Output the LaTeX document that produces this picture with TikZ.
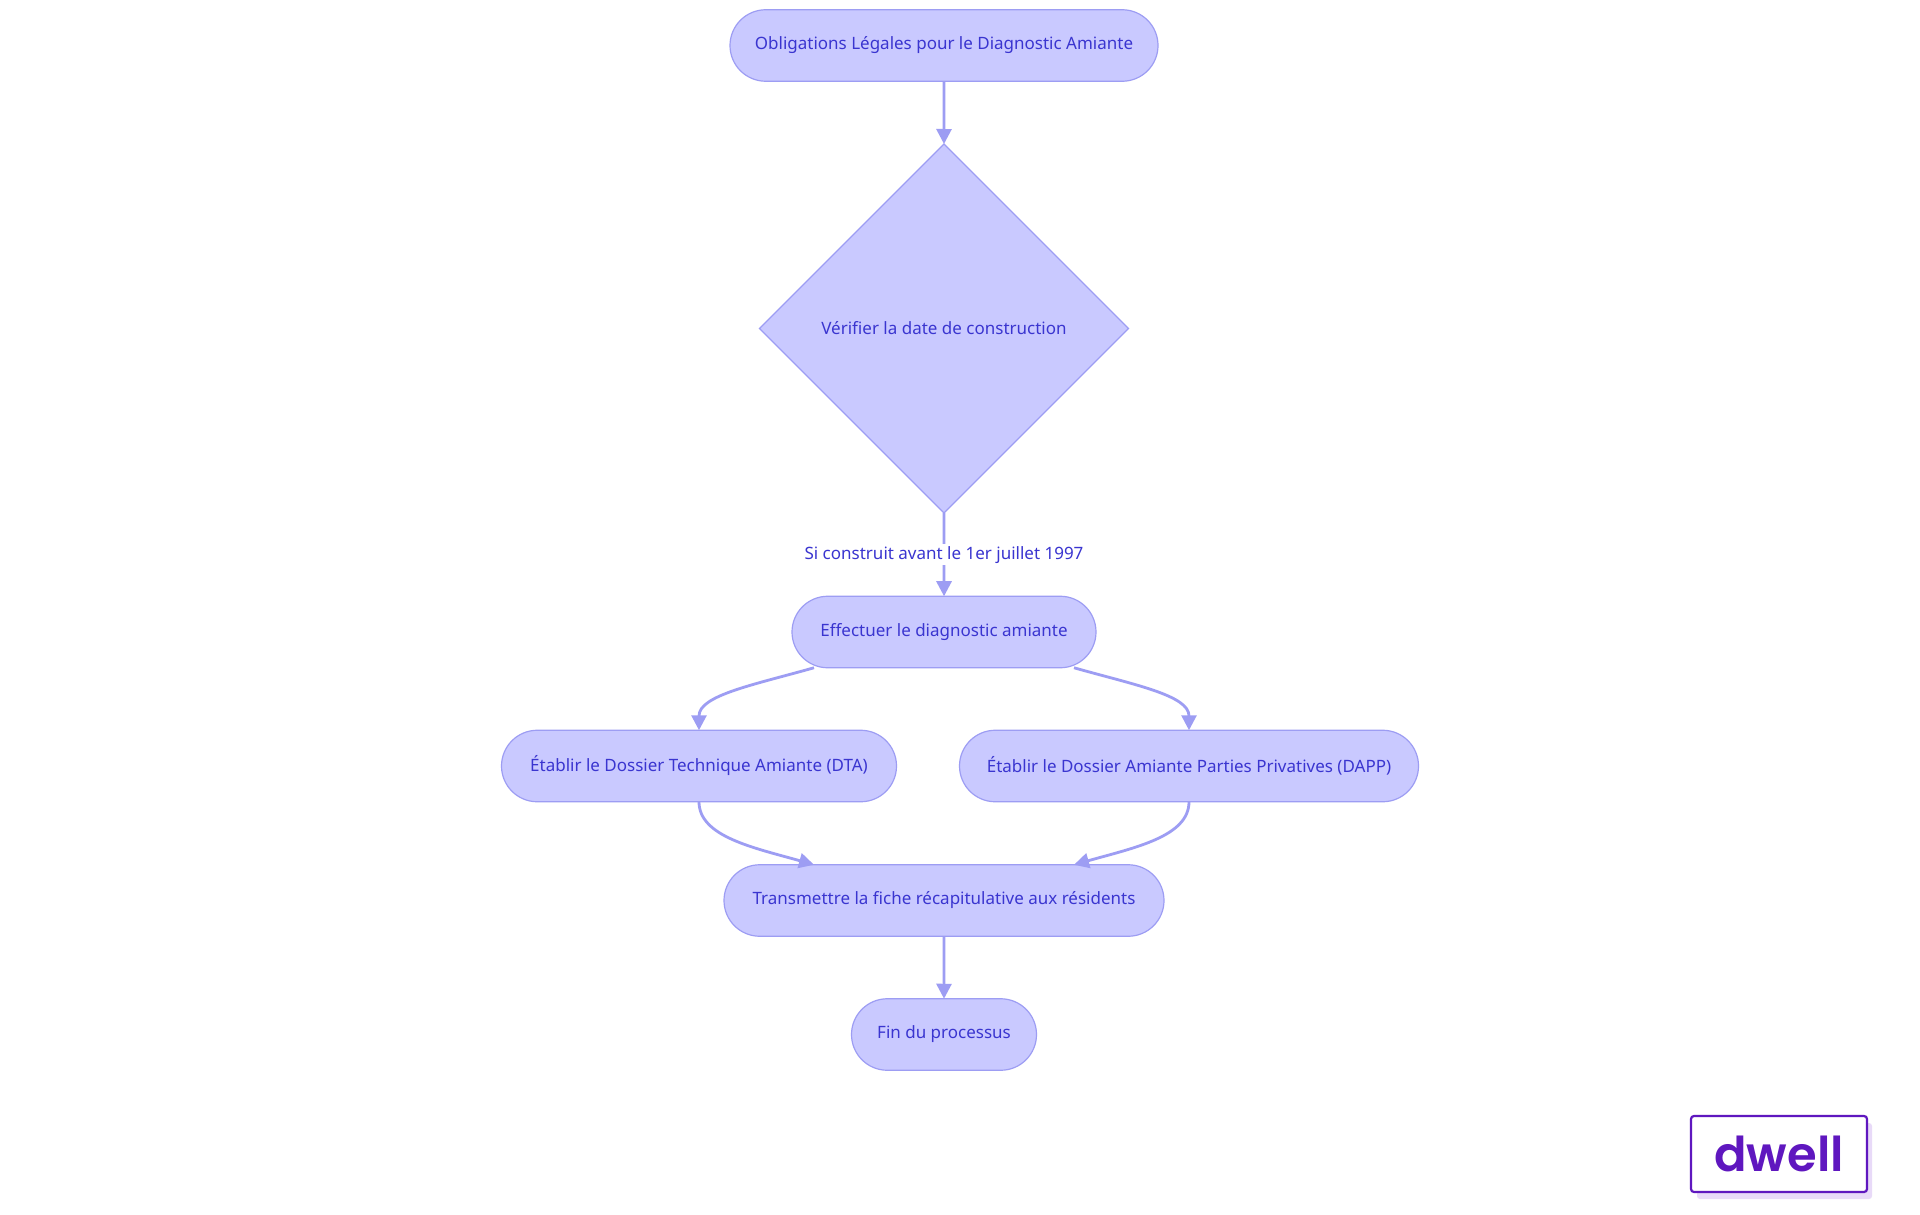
\documentclass[tikz,border=0pt]{standalone}
\usepackage{fontspec}
\setmainfont{Noto Sans}
\newfontfamily\logofont[BoldFont={Poppins SemiBold}]{Poppins}
\usetikzlibrary{shapes.misc,shapes.geometric,arrows.meta,calc}
\definecolor{nodefill}{HTML}{C9C9FF}
\definecolor{edgecol}{HTML}{9D9DF3}
\definecolor{txtcol}{HTML}{3A35D0}
\definecolor{logocol}{HTML}{5F17BF}
\definecolor{logoshadow}{HTML}{E8DAF8}
\tikzset{
  x=1pt,y=-1pt,
  flowbox/.style={rounded rectangle,draw=edgecol,fill=nodefill,line width=1.2pt,inner sep=0pt,outer sep=0pt,minimum height=71.5pt,text=txtcol,font=\fontsize{17}{22}\selectfont},
  decision/.style={diamond,draw=edgecol,fill=nodefill,line width=1.2pt,inner sep=0pt,outer sep=0pt,minimum width=369pt,minimum height=369pt,text=txtcol,font=\fontsize{17}{22}\selectfont},
  link/.style={draw=edgecol,line width=2.8pt,-{Triangle[length=15pt,width=15pt]}},
  linklabel/.style={fill=white,text=txtcol,inner sep=2pt,font=\fontsize{17}{22}\selectfont}
}
\begin{document}
\begin{tikzpicture}
\useasboundingbox (0,0) rectangle (1920,1215);
\fill[white] (0,0) rectangle (1920,1215);
\node[flowbox,minimum width=428pt] (a) at (944,45.5) {Obligations Légales pour le Diagnostic Amiante};
\node[decision] (b) at (944,328.5) {Vérifier la date de construction};
\node[flowbox,minimum width=304pt] (c) at (944,632) {Effectuer le diagnostic amiante};
\node[flowbox,minimum width=395pt] (d) at (699,766) {Établir le Dossier Technique Amiante (DTA)};
\node[flowbox,minimum width=459pt] (e) at (1189,766) {Établir le Dossier Amiante Parties Privatives (DAPP)};
\node[flowbox,minimum width=440pt] (f) at (944,900.5) {Transmettre la fiche récapitulative aux résidents};
\node[flowbox,minimum width=185pt] (g) at (944,1034.5) {Fin du processus};
\draw[link] (a) -- (b);
\draw[link] (b) -- node[linklabel,pos=.5] (l) {Si construit avant le 1er juillet 1997} (c);
\draw[link] ($(c.south)+(-130,0)$) .. controls ($(c.south)+(-190,17)$) and ($(d.north)+(0,-35)$) .. (d.north);
\draw[link] ($(c.south)+(130,0)$) .. controls ($(c.south)+(190,17)$) and ($(e.north)+(0,-35)$) .. (e.north);
\draw[link] (d.south) .. controls ($(d.south)+(0,35)$) and ($(f.north)+(-190,-17)$) .. ($(f.north)+(-130,0)$);
\draw[link] (e.south) .. controls ($(e.south)+(0,35)$) and ($(f.north)+(190,-17)$) .. ($(f.north)+(130,0)$);
\draw[link] (f) -- (g);
\node[fill=logoshadow,minimum width=175pt,minimum height=76pt,inner sep=0pt,outer sep=0pt,rounded corners=3pt] (ls) at (1784.5,1161) {};
\node[draw=logocol,fill=white,line width=2.2pt,minimum width=176pt,minimum height=76pt,inner sep=0pt,outer sep=0pt,rounded corners=3pt,text=logocol,font=\logofont\bfseries\fontsize{48}{50}\selectfont] (logo) at (1779,1154) {dwell};
\end{tikzpicture}
\end{document}
